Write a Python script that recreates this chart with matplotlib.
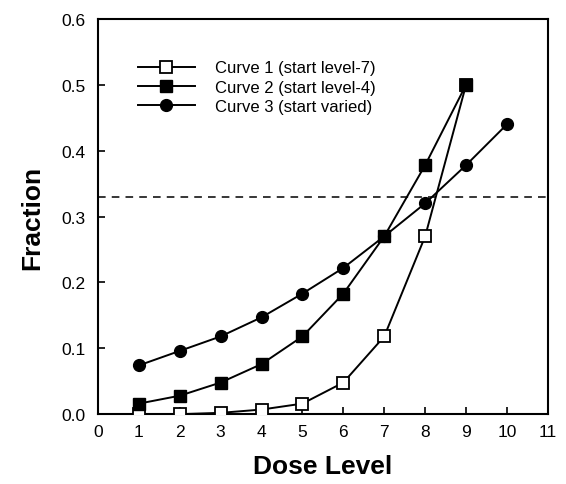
import matplotlib
matplotlib.use("Agg")
import matplotlib.pyplot as plt

plt.rcParams['font.family'] = ['Liberation Sans', 'DejaVu Sans']

x1 = [1, 2, 3, 4, 5, 6, 7, 8, 9]
curve1 = [0.0, 0.0, 0.002, 0.007, 0.016, 0.048, 0.118, 0.27, 0.5]
x2 = [1, 2, 3, 4, 5, 6, 7, 8, 9]
curve2 = [0.016, 0.028, 0.048, 0.076, 0.118, 0.183, 0.27, 0.378, 0.5]
x3 = [1, 2, 3, 4, 5, 6, 7, 8, 9, 10]
curve3 = [0.074, 0.096, 0.118, 0.147, 0.183, 0.222, 0.27, 0.32, 0.378, 0.44]
threshold = 0.33
labels = ["Curve 1 (start level-7)", "Curve 2 (start level-4)", "Curve 3 (start varied)"]
xticks = list(range(0, 12))
yticks = [0.0, 0.1, 0.2, 0.3, 0.4, 0.5, 0.6]

fig = plt.figure(figsize=(5.66, 4.85), dpi=100)
ax = fig.add_axes([0.173, 0.144, 0.795, 0.815])

ax.plot(x1, curve1, '-s', color='black', mfc='white', mec='black', ms=8, lw=1.4, mew=1.3, label=labels[0], zorder=3)
ax.plot(x2, curve2, '-s', color='black', mfc='black', ms=8, lw=1.4, label=labels[1], zorder=3)
ax.plot(x3, curve3, '-o', color='black', mfc='black', ms=8.5, lw=1.4, label=labels[2], zorder=3)
ax.axhline(threshold, color='black', lw=1.1, ls=(0, (5, 4)))

ax.set_xlim(0, 11)
ax.set_ylim(0, 0.6)
ax.set_xticks(xticks)
ax.set_xticklabels([str(t) for t in xticks])
ax.set_yticks(yticks)
ax.set_yticklabels([f"{t:.1f}" for t in yticks])
ax.tick_params(direction='in', length=5, width=1.2, labelsize=12.5)
ax.tick_params(axis='x', pad=7)
ax.tick_params(axis='y', pad=9)
for s in ax.spines.values():
    s.set_linewidth(1.5)

ax.set_xlabel("Dose Level", fontsize=19, fontweight='bold', labelpad=11)
ax.set_ylabel("Fraction", fontsize=19, fontweight='bold', labelpad=12)

ax.legend(loc='upper left', bbox_to_anchor=(0.089, 0.895), frameon=False, fontsize=12,
          handlelength=3.4, handletextpad=1.2, labelspacing=0.25, borderaxespad=0, borderpad=0)

fig.savefig("out.png", dpi=100)
